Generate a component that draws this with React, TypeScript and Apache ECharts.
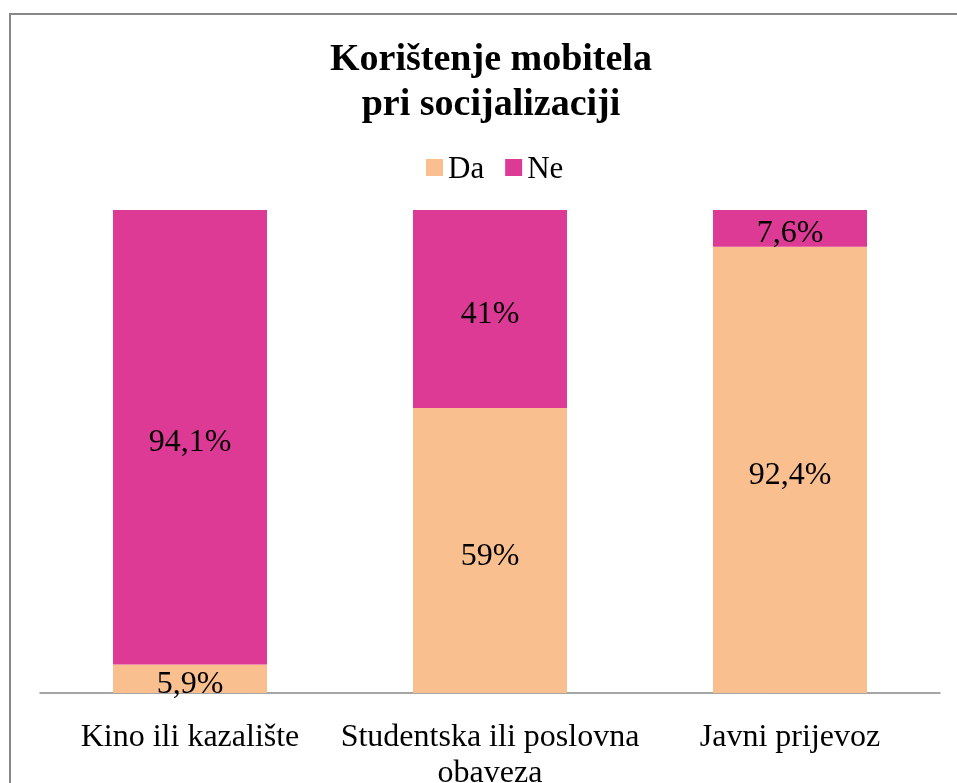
import React, { useEffect, useRef } from "react";
import * as echarts from "echarts";

const categories = ["Kino ili kazalište", "Studentska ili poslovna\nobaveza", "Javni prijevoz"];
const daValues = [5.9, 59, 92.4];
const neValues = [94.1, 41, 7.6];
const seriesNames = ["Da", "Ne"];

const fmt = (v: number) => String(v).replace(".", ",") + "%";

export default function App() {
  const ref = useRef<HTMLDivElement>(null);
  useEffect(() => {
    const chart = echarts.init(ref.current!, null, { renderer: "svg" });
    const font = "'Liberation Serif', 'Times New Roman', serif";
    const lbl = {
      show: true,
      position: "inside",
      offset: [0, 3],
      formatter: (p: any) => fmt(p.value),
      fontFamily: font,
      fontSize: 32,
      color: "#000",
    };
    chart.setOption({
      animation: false,
      textStyle: { fontFamily: font },
      title: {
        text: "Korištenje mobitela\npri socijalizaciji",
        left: 486,
        textAlign: "center",
        top: 29,
        textStyle: { fontFamily: font, fontSize: 38, fontWeight: "bold", color: "#000", lineHeight: 45 },
      },
      legend: {
        data: seriesNames,
        top: 147,
        left: 421,
        itemWidth: 17,
        itemHeight: 17,
        itemGap: 21,
        icon: "rect",
        textStyle: { fontFamily: font, fontSize: 31, color: "#000" },
      },
      graphic: [
        {
          type: "rect",
          shape: { x: 10, y: 14, width: 1000, height: 1000 },
          style: { fill: "none", stroke: "#888", lineWidth: 2 },
        },
      ],
      grid: { left: 40, right: 17, top: 210, bottom: 90, outerBoundsMode: "none" },
      xAxis: {
        type: "category",
        data: categories,
        axisLine: { lineStyle: { color: "#888", width: 1.5 } },
        axisTick: { show: false },
        axisLabel: { fontFamily: font, fontSize: 32, color: "#000", margin: 24, lineHeight: 36, interval: 0 },
      },
      yAxis: { type: "value", min: 0, max: 100, show: false, splitLine: { show: false } },
      series: [
        {
          name: "Da",
          type: "bar",
          stack: "a",
          data: daValues,
          barWidth: 154,
          itemStyle: { color: "#F9BF8F" },
          label: lbl,
        },
        {
          name: "Ne",
          type: "bar",
          stack: "a",
          data: neValues,
          barWidth: 154,
          itemStyle: { color: "#DD3A96" },
          label: lbl,
        },
      ],
    });
    return () => chart.dispose();
  }, []);
  return <div ref={ref} style={{ position: "fixed", left: 0, top: 0, width: 957, height: 783 }} />;
}
